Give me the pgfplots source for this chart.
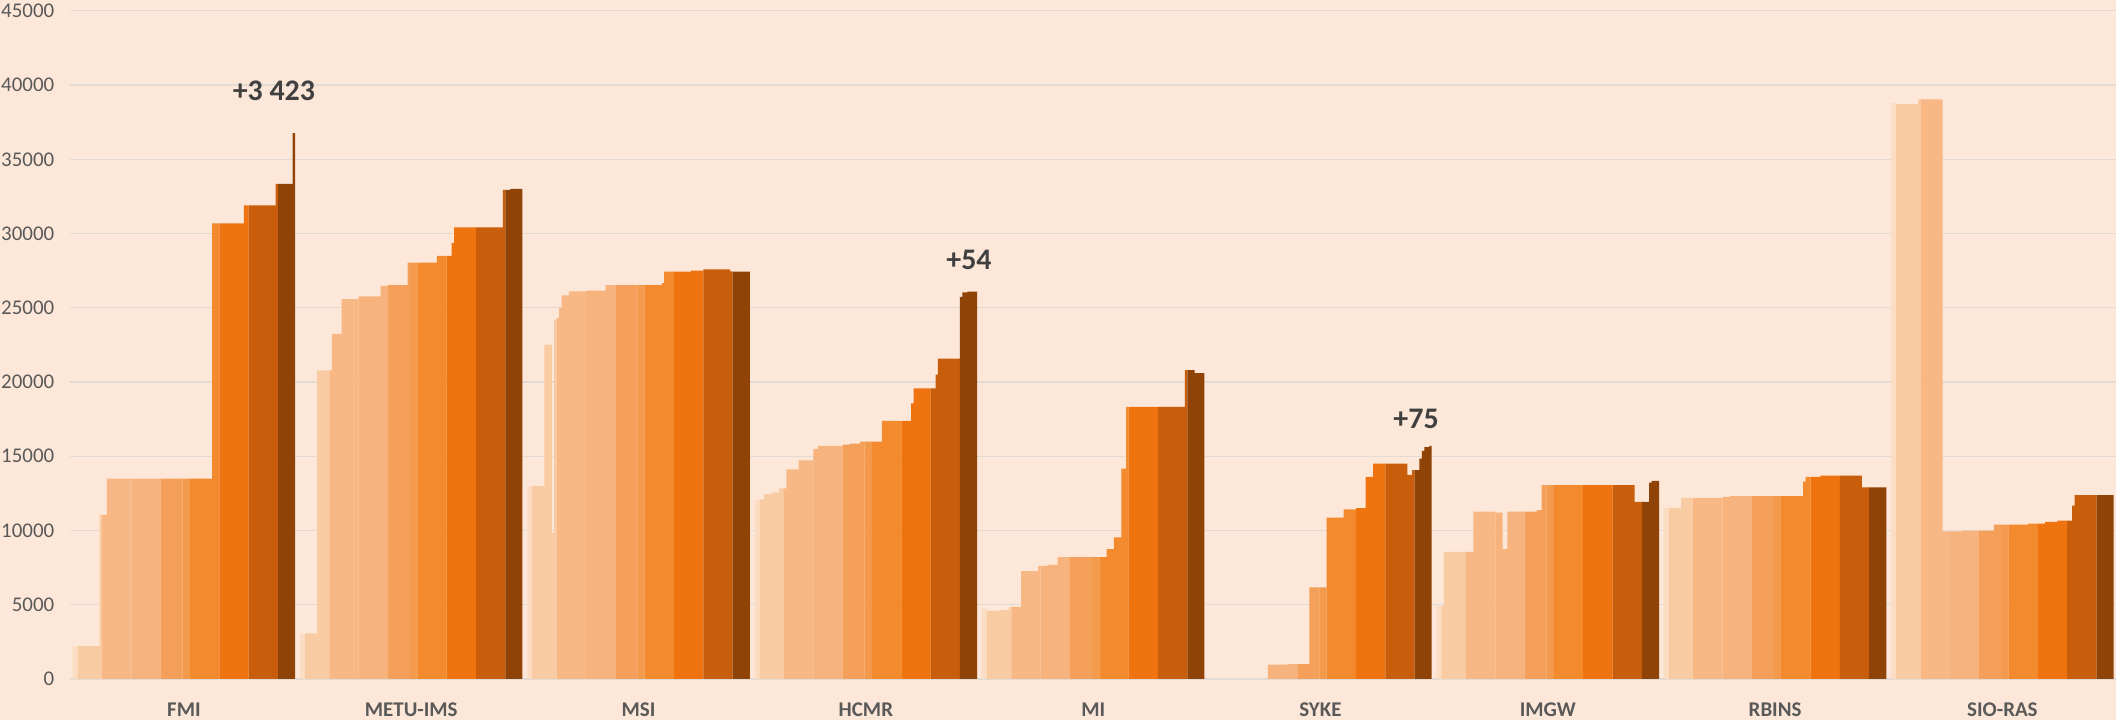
\documentclass[border=0pt]{standalone}
\usepackage{fontspec}
\setmainfont{Carlito}
\usepackage{pgfplots}
\usepackage{pgfplotstable}
\pgfplotsset{compat=1.18}
\definecolor{bgc}{HTML}{FDE7D8}
\definecolor{gridc}{HTML}{E3DAD3}
\definecolor{tickc}{HTML}{595959}
\definecolor{annc}{HTML}{404040}
\definecolor{cV}{HTML}{FCDDC4}
\definecolor{cA}{HTML}{F9CBA3}
\definecolor{cB}{HTML}{F8B886}
\definecolor{cC}{HTML}{F7B37D}
\definecolor{cD}{HTML}{F5A05A}
\definecolor{cDs}{HTML}{F49A4C}
\definecolor{cE}{HTML}{F38A2E}
\definecolor{cF}{HTML}{EF730F}
\definecolor{cG}{HTML}{C85E0B}
\definecolor{cH}{HTML}{904306}

% g = group (institute), j = month index inside group, v = value (steps)
\pgfplotstableread{
g j v
0 0 2212
0 2 0
1 0 3065
1 2 0
2 0 12994
2 2 0
3 0 12050
3 2 0
4 0 4710
4 2 0
6 0 4930
6 2 0
7 0 11500
7 2 0
8 0 38780
8 2 0
}\tabV
\pgfplotstableread{
g j v
0 2 2212
0 11 11060
0 12 0
1 2 3065
1 7 20790
1 12 0
2 2 12994
2 7 22520
2 10 9840
2 11 24200
2 12 0
3 2 12100
3 4 12450
3 7 12570
3 10 12840
3 12 0
4 2 4580
4 7 4640
4 11 4820
4 12 0
6 2 4930
6 3 8560
6 12 0
7 2 11520
7 7 12200
7 12 0
8 2 38720
8 11 39040
8 12 0
}\tabA
\pgfplotstableread{
g j v
0 12 11060
0 14 13487
0 24 0
1 12 20790
1 13 23250
1 17 25590
1 24 0
2 12 24320
2 13 25000
2 14 25830
2 17 26100
2 24 0
3 12 12840
3 13 14120
3 18 14730
3 24 0
4 12 4865
4 16 7265
4 23 7620
4 24 0
6 12 8560
6 15 11280
6 24 0
7 12 12200
7 24 0
8 12 39040
8 21 9940
8 24 0
}\tabB
\pgfplotstableread{
g j v
0 24 13487
0 36 0
1 24 25770
1 33 26470
1 36 0
2 24 26150
2 32 26530
2 36 0
3 24 15490
3 26 15700
3 36 0
4 24 7620
4 27 7690
4 31 8200
4 36 0
5 24 964
5 32 1010
5 36 0
6 24 11210
6 27 8740
6 29 11280
6 36 0
7 24 12260
7 27 12310
7 36 0
8 24 9940
8 29 9995
8 36 0
}\tabC
\pgfplotstableread{
g j v
0 36 13487
0 45 0
1 36 26520
1 44 28040
1 45 0
2 36 26530
2 45 0
3 36 15790
3 39 15850
3 43 15990
3 45 0
4 36 8200
4 45 0
5 36 1010
5 41 6170
5 45 0
6 36 11280
6 41 11370
6 43 13050
6 45 0
7 36 12310
7 45 0
8 36 9995
8 42 10390
8 45 0
}\tabD
\pgfplotstableread{
g j v
0 45 13487
0 48 0
1 45 28040
1 48 0
2 45 26530
2 48 0
3 45 15990
3 48 0
4 45 8200
4 48 0
5 45 6170
5 48 0
6 45 13050
6 48 0
7 45 12310
7 48 0
8 45 10390
8 48 0
}\tabDs
\pgfplotstableread{
g j v
0 48 13487
0 57 30677
0 60 0
1 48 28040
1 56 28490
1 60 0
2 48 26530
2 55 26660
2 56 27430
2 60 0
3 48 15990
3 52 17380
3 60 0
4 48 8200
4 51 8740
4 54 9530
4 57 14170
4 59 18320
4 60 0
5 48 10870
5 55 11430
5 60 0
6 48 13050
6 60 0
7 48 12310
7 57 13300
7 58 13610
7 60 0
8 48 10390
8 56 10470
8 60 0
}\tabE
\pgfplotstableread{
g j v
0 60 30677
0 70 31900
0 72 0
1 60 28490
1 62 29370
1 63 30410
1 72 0
2 60 27430
2 67 27500
2 72 0
3 60 17380
3 64 18560
3 65 19570
3 72 0
4 60 18320
4 72 0
5 60 11500
5 64 13610
5 67 14510
5 72 0
6 60 13050
6 72 0
7 60 13610
7 64 13700
7 72 0
8 60 10470
8 63 10580
8 68 10660
8 72 0
}\tabF
\pgfplotstableread{
g j v
0 72 31900
0 83 33340
0 84 0
1 72 30410
1 83 32940
1 84 0
2 72 27590
2 83 27450
2 84 0
3 72 19570
3 74 20490
3 75 21570
3 84 0
4 72 18320
4 83 20800
4 84 0
5 72 14510
5 81 13740
5 83 14060
5 84 0
6 72 13050
6 81 11930
6 84 0
7 72 13700
7 81 12910
7 84 0
8 72 10660
8 74 11670
8 75 12390
8 84 0
}\tabG
\pgfplotstableread{
g j v
0 84 33340
0 90 36763
0 91 0
1 84 32940
1 86 33000
1 91 0
2 84 27430
2 91 0
3 84 25740
3 85 26030
3 87 26084
3 91 0
4 84 20800
4 87 20600
4 91 0
5 84 14060
5 86 14840
5 87 15360
5 88 15620
5 90 15695
5 91 0
6 84 11930
6 87 13230
6 88 13340
6 91 0
7 84 12910
7 91 0
8 84 12390
8 91 0
}\tabH

\begin{document}
\begin{tikzpicture}
\fill[bgc] (-35.15bp,-20.5bp) rectangle (1022.85bp,339.5bp);
\begin{axis}[
  at={(0,0)}, anchor=south west,
  scale only axis, width=1022.85bp, height=334.1bp,
  xmin=0, xmax=837, ymin=0, ymax=45000,
  axis line style={draw=none},
  major tick length=0pt,
  no markers,
  ymajorgrids, grid style={draw=gridc, line width=0.6bp},
  ytick={0,5000,...,45000},
  /pgf/number format/.cd, 1000 sep={}, assume math mode=true,
  /pgfplots/.cd,
  scaled y ticks=false,
  yticklabel style={font=\fontsize{10.5}{12}\selectfont, text=tickc, xshift=-4.5bp},
  xtick={46.5,139.5,232.5,325.5,418.5,511.5,604.5,697.5,790.5},
  xticklabels={FMI,METU-IMS,MSI,HCMR,MI,SYKE,IMGW,RBINS,SIO-RAS},
  xticklabel style={font=\bfseries\fontsize{10.5}{12}\selectfont, text=tickc, anchor=base, yshift=-18.5bp},
  every axis plot/.append style={const plot, draw=none},
]
\addplot[fill=cV] table[x expr=93*\thisrow{g}+1+\thisrow{j}, y=v] {\tabV} \closedcycle;
\addplot[fill=cA] table[x expr=93*\thisrow{g}+1+\thisrow{j}, y=v] {\tabA} \closedcycle;
\addplot[fill=cB] table[x expr=93*\thisrow{g}+1+\thisrow{j}, y=v] {\tabB} \closedcycle;
\addplot[fill=cC] table[x expr=93*\thisrow{g}+1+\thisrow{j}, y=v] {\tabC} \closedcycle;
\addplot[fill=cD] table[x expr=93*\thisrow{g}+1+\thisrow{j}, y=v] {\tabD} \closedcycle;
\addplot[fill=cDs] table[x expr=93*\thisrow{g}+1+\thisrow{j}, y=v] {\tabDs} \closedcycle;
\addplot[fill=cE] table[x expr=93*\thisrow{g}+1+\thisrow{j}, y=v] {\tabE} \closedcycle;
\addplot[fill=cF] table[x expr=93*\thisrow{g}+1+\thisrow{j}, y=v] {\tabF} \closedcycle;
\addplot[fill=cG] table[x expr=93*\thisrow{g}+1+\thisrow{j}, y=v] {\tabG} \closedcycle;
\addplot[fill=cH] table[x expr=93*\thisrow{g}+1+\thisrow{j}, y=v] {\tabH} \closedcycle;
\node[font=\bfseries\fontsize{15}{18}\selectfont, text=annc] at (axis cs:83.3,39600) {+3 423};
\node[font=\bfseries\fontsize{15}{18}\selectfont, text=annc] at (axis cs:367.7,28250) {+54};
\node[font=\bfseries\fontsize{15}{18}\selectfont, text=annc] at (axis cs:550.6,17500) {+75};
\end{axis}
\pgfresetboundingbox
\useasboundingbox (-35.15bp,-20.5bp) rectangle (1022.85bp,339.5bp);
\end{tikzpicture}
\end{document}
